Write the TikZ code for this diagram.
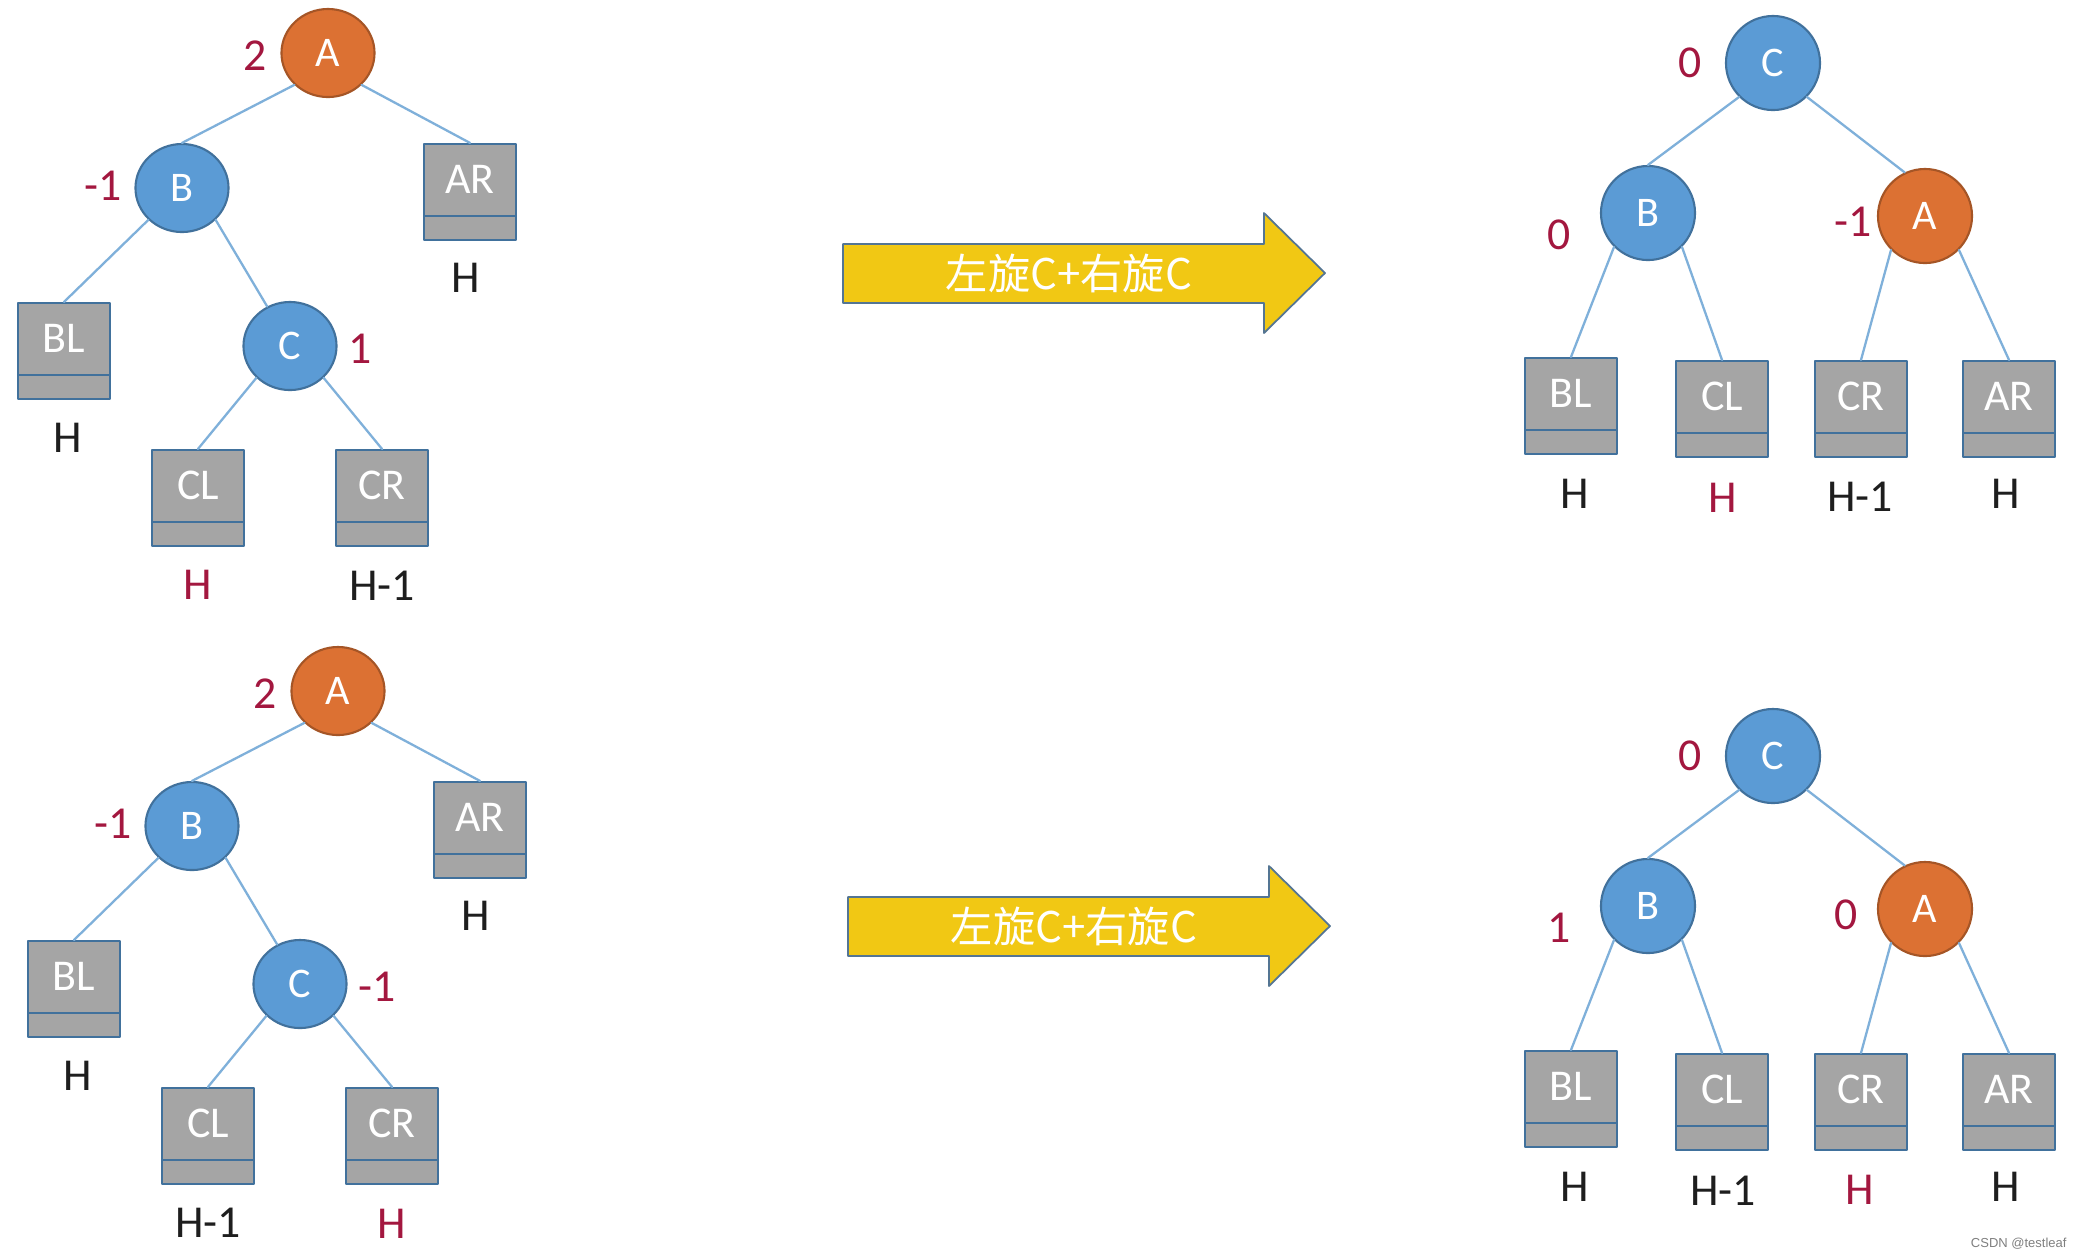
\documentclass[tikz,border=0pt]{standalone}
\usepackage{fontspec}
\setmainfont{Carlito}
\newfontfamily\cjk{Noto Sans CJK SC}
\newfontfamily\wmfont{Liberation Sans}
\usetikzlibrary{shapes.geometric}

\begin{document}
\begin{tikzpicture}[x=0.01cm, y=-0.01cm, line cap=round, line join=round]
  \definecolor{Ink}{HTML}{1E1E1E}
  \definecolor{NodeBlue}{HTML}{5B9BD5}
  \definecolor{NodeOrange}{HTML}{DC7133}
  \definecolor{Rim}{HTML}{41719C}
  \definecolor{LeafGray}{HTML}{A5A5A5}
  \definecolor{EdgeBlue}{HTML}{7FB0DA}
  \definecolor{BalRed}{HTML}{A3173F}
  \definecolor{ArrowGold}{HTML}{F1C814}

  \tikzset{
    avl/.style={ellipse, minimum width=0.93cm, minimum height=0.88cm, inner sep=0pt,
      draw=Rim, line width=0.6pt, fill=NodeBlue, text=white, font=\fontsize{12}{14}\selectfont},
    hot/.style={avl, fill=NodeOrange, draw=NodeOrange!75!black},
    round/.style={minimum width=0.94cm, minimum height=0.94cm},
    leaf/.style={rectangle, minimum width=0.92cm, minimum height=0.96cm, inner sep=0pt,
      draw=Rim, line width=0.6pt, fill=LeafGray, text=white, font=\fontsize{12.5}{14}\selectfont,
      text height=0.3cm, text depth=0.28cm,
      path picture={\draw[Rim, line width=0.6pt]
        ([yshift=0.24cm]path picture bounding box.south west) --
        ([yshift=0.24cm]path picture bounding box.south east);}},
    link/.style={draw=EdgeBlue, line width=0.65pt},
    bal/.style={inner sep=0pt, text=BalRed, font=\fontsize{13}{15}\selectfont},
    ht/.style={inner sep=0pt, text=Ink, font=\fontsize{13}{15}\selectfont},
    rotbar/.style={fill=ArrowGold, draw=Rim!70!gray, line width=0.5pt}
  }

  \fill[white] (0,0) rectangle (2087,1259);
  \useasboundingbox (0,0) rectangle (2087,1259);

  % Left: A out of balance (B right-heavy)
  \foreach \row/\dx/\dy/\cb/\clh/\clc/\crh/\crc in {%
    1/0/0/1/H/BalRed/H-1/Ink,%
    2/10/638/-1/H-1/Ink/H/BalRed%
  } {
    \begin{scope}[shift={(\dx,\dy)}]
      \node[hot] (lA\row) at (328,53) {A};
      \node[avl] (lB\row) at (182,188) {B};
      \node[avl] (lC\row) at (290,346) {C};
      \node[leaf] (lAR\row) at (470,192) {AR};
      \node[leaf] (lBL\row) at (64,351) {BL};
      \node[leaf] (lCL\row) at (198,498) {CL};
      \node[leaf] (lCR\row) at (382,498) {CR};

      \draw[link] (lA\row.south west) -- (lB\row.north);
      \draw[link] (lA\row.south east) -- (lAR\row.north);
      \draw[link] (lB\row.south west) -- (lBL\row.north);
      \draw[link] (lB\row.south east) -- (lC\row.120);
      \draw[link] (lC\row.south west) -- (lCL\row.north);
      \draw[link] (lC\row.south east) -- (lCR\row.north);

      \node[bal, anchor=east] (lbA\row) at (267,56) {2};
      \node[bal, anchor=east] (lbB\row) at (122,186) {-1};
      \node[bal, anchor=west] (lbC\row) at (348,349) {\cb};

      \node[ht] (lhAR\row) at (466,278) {H};
      \node[ht] (lhBL\row) at (68,438) {H};
      \node[ht, text=\clc] (lhCL\row) at (198,585) {\clh};
      \node[ht, text=\crc] (lhCR\row) at (382,586) {\crh};
    \end{scope}
  }

  % Rotation arrows
  \foreach \row/\dx/\dy in {1/0/0, 2/5/653} {
    \begin{scope}[shift={(\dx,\dy)}]
      \draw[rotbar] (843,244) -- (1264,244) -- (1264,213) -- (1325,273)
        -- (1264,333) -- (1264,303) -- (843,303) -- cycle;
      \node[text=white, font=\cjk\fontsize{12}{14}\selectfont] (turn\row) at (1069,273) {左旋C+右旋C};
    \end{scope}
  }

  % Right: balanced after double rotation
  \foreach \row/\dy/\bb/\ab/\ax/\clh/\clc/\crh/\crc in {%
    1/0/0/-1/1853/H/BalRed/H-1/Ink,%
    2/693/1/0/1846/H-1/Ink/H/BalRed%
  } {
    \begin{scope}[shift={(0,\dy)}]
      \node[avl, round] (rC\row) at (1773,63) {C};
      \node[avl, round] (rB\row) at (1648,213) {B};
      \node[hot, round] (rA\row) at (1925,216) {A};
      \node[leaf] (rBL\row) at (1571,406) {BL};
      \node[leaf] (rCL\row) at (1722,409) {CL};
      \node[leaf] (rCR\row) at (1861,409) {CR};
      \node[leaf] (rAR\row) at (2009,409) {AR};

      \draw[link] (rC\row.south west) -- (rB\row.north);
      \draw[link] (rC\row.south east) -- (rA\row.115);
      \draw[link] (rB\row.south west) -- (rBL\row.north);
      \draw[link] (rB\row.south east) -- (rCL\row.north);
      \draw[link] (rA\row.south west) -- (rCR\row.north);
      \draw[link] (rA\row.south east) -- (rAR\row.north);

      \node[bal] (rbC\row) at (1690,63) {0};
      \node[bal] (rbB\row) at (1559,235) {\bb};
      \node[bal] (rbA\row) at (\ax,222) {\ab};

      \node[ht] (rhBL\row) at (1575,494) {H};
      \node[ht, text=\clc] (rhCL\row) at (1723,498) {\clh};
      \node[ht, text=\crc] (rhCR\row) at (1860,497) {\crh};
      \node[ht] (rhAR\row) at (2006,494) {H};
    \end{scope}
  }

  \node[anchor=base east, text=gray, font=\wmfont\fontsize{3.7}{4}\selectfont] (mark) at (2079,1247) {CSDN @testleaf};
\end{tikzpicture}
\end{document}
